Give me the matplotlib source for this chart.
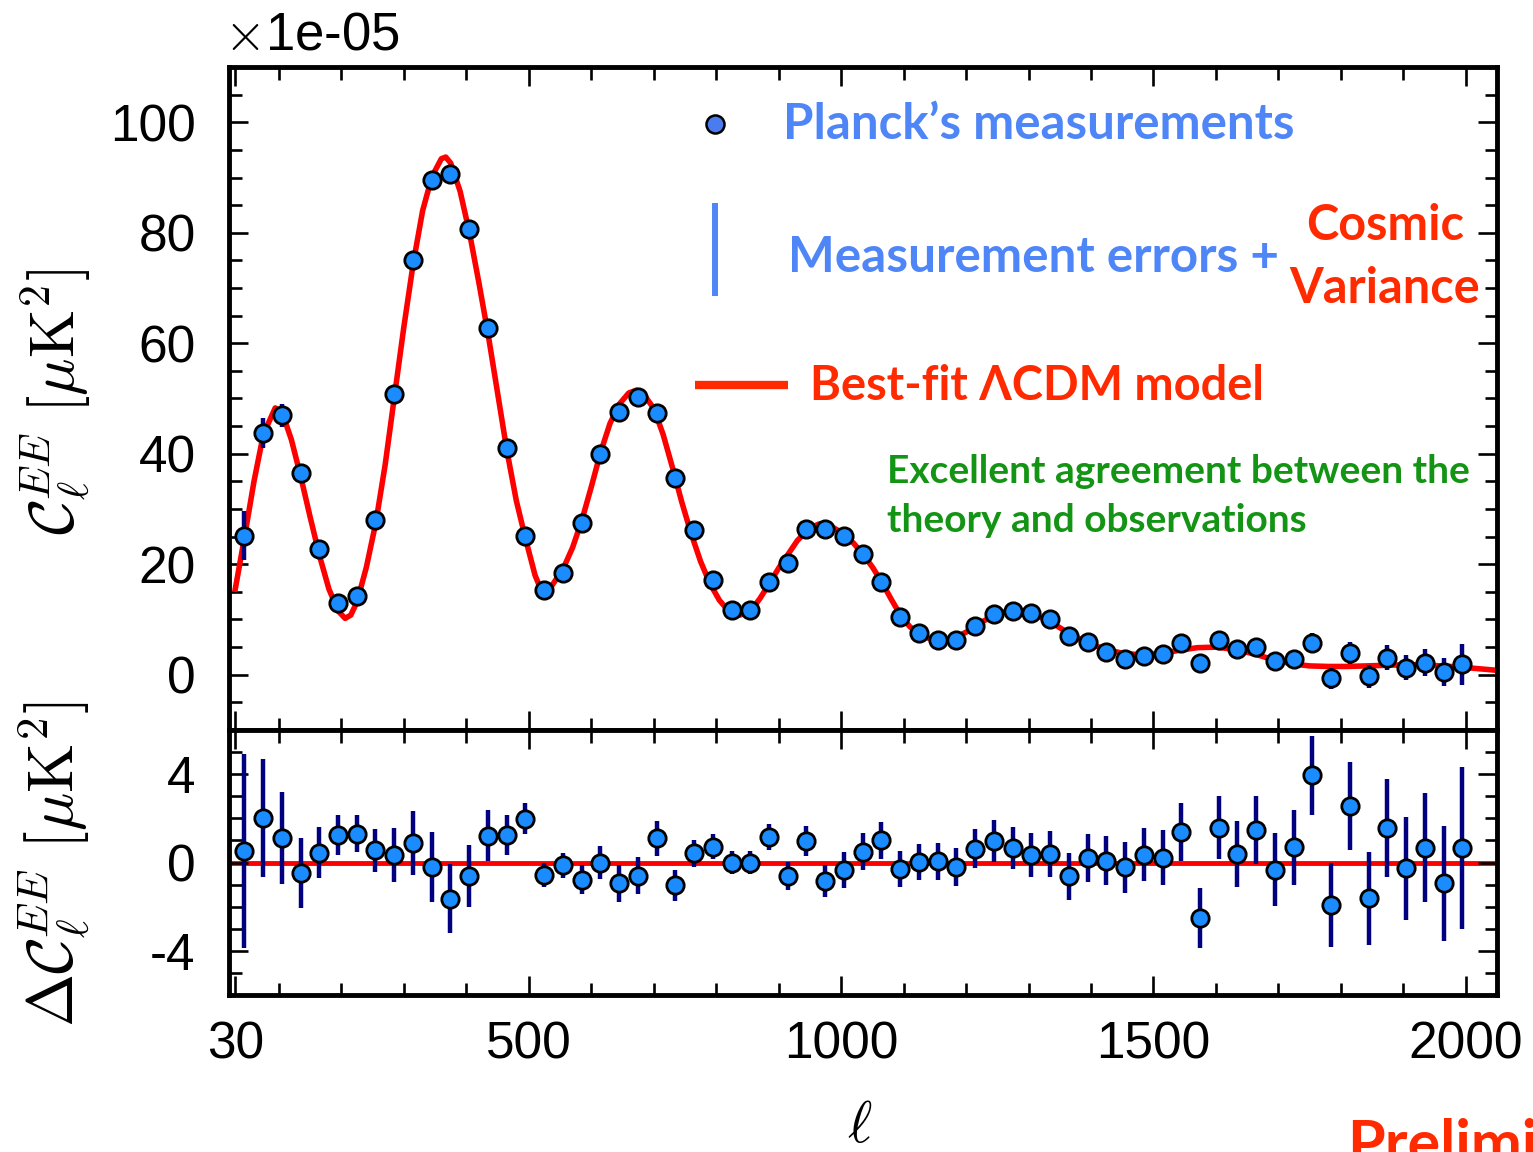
import matplotlib.pyplot as plt
from matplotlib.ticker import MultipleLocator, FixedLocator

plt.rcParams['font.family'] = ['Liberation Sans', 'DejaVu Sans']
plt.rcParams['mathtext.fontset'] = 'cm'
plt.rcParams['axes.unicode_minus'] = False

# binned multipoles
ell = [44.5, 74.5, 104.5, 134.5, 164.5, 194.5, 224.5, 254.5, 284.5, 314.5,
       344.5, 374.5, 404.5, 434.5, 464.5, 494.5, 524.5, 554.5, 584.5, 614.5,
       644.5, 674.5, 704.5, 734.5, 764.5, 794.5, 824.5, 854.5, 884.5, 914.5,
       944.5, 974.5, 1004.5, 1034.5, 1064.5, 1094.5, 1124.5, 1154.5, 1184.5, 1214.5,
       1244.5, 1274.5, 1304.5, 1334.5, 1364.5, 1394.5, 1424.5, 1454.5, 1484.5, 1514.5,
       1544.5, 1574.5, 1604.5, 1634.5, 1664.5, 1694.5, 1724.5, 1754.5, 1784.5, 1814.5,
       1844.5, 1874.5, 1904.5, 1934.5, 1964.5, 1994.5]

# measured C_ell^EE (top panel)
cl_ee = [25.2, 43.8, 47.0, 36.5, 22.7, 13.0, 14.3, 28.0, 50.9, 75.0,
         89.6, 90.6, 80.7, 62.7, 41.0, 25.1, 15.3, 18.5, 27.5, 40.0,
         47.6, 50.2, 47.4, 35.7, 26.2, 17.2, 11.8, 11.8, 16.8, 20.3,
         26.3, 26.3, 25.2, 21.9, 16.8, 10.5, 7.5, 6.2, 6.3, 8.9,
         11.0, 11.6, 11.2, 10.0, 7.1, 5.9, 4.2, 2.9, 3.4, 3.8,
         5.7, 2.1, 6.3, 4.7, 5.1, 2.5, 2.8, 5.7, -0.6, 3.9,
         -0.3, 3.1, 1.3, 2.2, 0.5, 1.9]

# error bars (same in both panels)
cl_err = [4.39, 2.68, 2.08, 1.57, 1.15, 0.90, 0.84, 0.97, 1.21, 1.45,
          1.58, 1.55, 1.40, 1.15, 0.90, 0.72, 0.55, 0.57, 0.65, 0.74,
          0.83, 0.83, 0.79, 0.72, 0.63, 0.58, 0.54, 0.53, 0.58, 0.64,
          0.69, 0.72, 0.82, 0.84, 0.83, 0.81, 0.81, 0.83, 0.86, 0.88,
          0.94, 0.97, 0.99, 1.03, 1.05, 1.09, 1.11, 1.15, 1.19, 1.25,
          1.32, 1.37, 1.43, 1.50, 1.56, 1.64, 1.71, 1.79, 1.89, 1.99,
          2.10, 2.22, 2.34, 2.47, 2.61, 3.67]

# residuals data - model (bottom panel)
resid = [0.54, 2.02, 1.09, -0.47, 0.44, 1.24, 1.30, 0.56, 0.33, 0.89,
         -0.20, -1.64, -0.60, 1.22, 1.24, 1.99, -0.57, -0.12, -0.77, 0.00,
         -0.95, -0.60, 1.09, -1.04, 0.41, 0.72, 0.00, 0.00, 1.16, -0.62,
         0.97, -0.84, -0.35, 0.48, 1.00, -0.30, 0.03, 0.06, -0.21, 0.62,
         0.97, 0.66, 0.33, 0.39, -0.63, 0.21, 0.09, -0.21, 0.36, 0.21,
         1.39, -2.52, 1.58, 0.39, 1.47, -0.32, 0.68, 3.95, -1.93, 2.55,
         -1.63, 1.58, -0.26, 0.66, -0.95, 0.66]

# best-fit LCDM curve
model_ell = [30, 45, 60, 75, 94, 105, 120, 135, 150, 165, 180, 195, 206, 215, 225,
             240, 255, 270, 285, 300, 315, 330, 345, 360, 367, 375, 390, 405, 420, 435,
             450, 465, 480, 495, 510, 522, 535, 555, 570, 585, 600, 615, 630, 645, 660,
             672, 685, 700, 715, 730, 745, 760, 775, 790, 805, 820, 838, 855, 870, 885,
             900, 915, 930, 950, 965, 980, 1000, 1020, 1035, 1050, 1065, 1080, 1095, 1110,
             1125, 1140, 1160, 1180, 1200, 1220, 1245, 1270, 1290, 1310, 1335, 1360, 1390,
             1420, 1450, 1480, 1510, 1540, 1570, 1600, 1630, 1660, 1690, 1720, 1750, 1780,
             1810, 1840, 1870, 1900, 1930, 1960, 1990, 2020, 2050]
model_cl = [15.5, 25.0, 35.0, 43.5, 48.3, 47.5, 42.5, 35.8, 28.5, 21.5, 15.5, 11.5, 10.2, 10.8, 13.2,
            19.5, 27.5, 38.0, 50.5, 63.0, 74.5, 84.0, 90.2, 93.4, 93.7, 92.6, 87.5, 80.0, 71.0, 61.5,
            51.0, 40.5, 31.5, 24.5, 18.0, 14.7, 15.8, 19.2, 23.0, 28.0, 34.0, 40.3, 45.5, 49.0, 51.0,
            51.5, 50.6, 48.2, 43.5, 37.5, 31.2, 25.5, 20.5, 16.5, 13.5, 11.5, 10.8, 11.5, 13.8, 16.5,
            19.3, 21.8, 24.3, 26.6, 27.3, 27.1, 25.8, 23.8, 21.8, 19.5, 16.8, 13.7, 10.8, 8.7,
            7.4, 6.6, 6.2, 6.6, 7.7, 9.2, 10.8, 11.6, 11.5, 10.9, 9.6, 7.8, 6.0,
            4.7, 3.9, 3.6, 3.8, 4.4, 4.9, 5.0, 4.6, 3.8, 2.8, 2.0, 1.6, 1.5,
            1.5, 1.6, 1.7, 1.8, 1.8, 1.6, 1.4, 1.1, 0.8]

xticks = [30, 500, 1000, 1500, 2000]

red = '#ff0000'
pt_face = '#1a8cff'
bar_col = '#000080'
txt_blue = '#4f86f7'
txt_red = '#ff2a00'
txt_green = '#149414'

fig = plt.figure(figsize=(15.33, 11.52), dpi=100)
ax1 = fig.add_axes([0.14938, 0.36632, 0.82714, 0.57552])
ax2 = fig.add_axes([0.14938, 0.13628, 0.82714, 0.23004])

# top panel
ax1.plot(model_ell, model_cl, color=red, lw=4.0, zorder=2)
ax1.errorbar(ell, cl_ee, yerr=cl_err, fmt='o', ms=12.5, mfc=pt_face, mec='black',
             mew=2.0, ecolor=bar_col, elinewidth=3.2, capsize=0, zorder=3)

# bottom panel
ax2.axhline(0, color=red, lw=3.5, zorder=1)
ax2.errorbar(ell, resid, yerr=cl_err, fmt='o', ms=12.5, mfc=pt_face, mec='black',
             mew=2.0, ecolor=bar_col, elinewidth=3.2, capsize=0, zorder=3)

for ax in (ax1, ax2):
    ax.set_xlim(20, 2050)
    ax.xaxis.set_major_locator(FixedLocator(xticks))
    ax.xaxis.set_minor_locator(MultipleLocator(100))
    ax.tick_params(which='both', direction='in', top=True, right=True,
                   width=1.9, labelsize=37)
    ax.tick_params(which='major', length=14)
    ax.tick_params(which='minor', length=9)
    ax.tick_params(axis='x', pad=18)
    ax.tick_params(axis='y', pad=24)
    for s in ax.spines.values():
        s.set_linewidth(3.5)

ax1.set_ylim(-10, 110)
ax1.yaxis.set_major_locator(MultipleLocator(20))
ax1.yaxis.set_minor_locator(MultipleLocator(5))
ax1.tick_params(axis='x', labelbottom=False)

ax2.set_ylim(-6, 6)
ax2.yaxis.set_major_locator(FixedLocator([-4, 0, 4]))
ax2.yaxis.set_minor_locator(MultipleLocator(1))
ax2.set_xticklabels([str(t) for t in xticks])

# offset text and axis labels
ax1.text(-0.004, 1.026, r'$\times$1e-05', transform=ax1.transAxes, ha='left', va='baseline',
         fontsize=38)
fig.text(55 / 1533, 1 - 402 / 1152, r'$\mathcal{C}_\ell^{EE}\ [\mu\mathrm{K}^2]$',
         rotation=90, ha='center', va='center', fontsize=45)
fig.text(55 / 1533, 1 - 864 / 1152, r'$\Delta\mathcal{C}_\ell^{EE}\ [\mu\mathrm{K}^2]$',
         rotation=90, ha='center', va='center', fontsize=46)
fig.text(860 / 1533, 1 - 1127 / 1152, r'$\ell$', ha='center', va='center', fontsize=42)

# hand-made legend
lfont = ['Lato', 'DejaVu Sans']
ax1.plot([0.3833], [0.914], 'o', ms=13, mfc='#4a7cf0', mec='black', mew=1.8,
         transform=ax1.transAxes, clip_on=False)
ax1.plot([0.3833, 0.3833], [0.6546, 0.795], color=txt_blue, lw=4.3,
         transform=ax1.transAxes, solid_capstyle='butt')
ax1.plot([0.3675, 0.4409], [0.5204, 0.5204], color=txt_red, lw=6,
         transform=ax1.transAxes, solid_capstyle='butt')

def ftext(x, y, s, color, size, ha='left'):
    fig.text(x / 1533, 1 - y / 1152, s, color=color, fontsize=size, ha=ha,
             va='baseline', family=lfont, weight='bold')

ftext(783, 139, 'Planck\u2019s measurements', txt_blue, 35.4)
ftext(788, 272, 'Measurement errors +', txt_blue, 35.6)
ftext(1385, 240, 'Cosmic', txt_red, 35, ha='center')
ftext(1385, 303, 'Variance', txt_red, 35, ha='center')
ftext(810, 400, 'Best-fit \u039bCDM model', txt_red, 33.8)
ftext(887, 483, 'Excellent agreement between the', txt_green, 28)
ftext(887, 532, 'theory and observations', txt_green, 28)
# clipped at the figure edge, as in the original slide
ftext(1347, 1164, 'Preliminary', txt_red, 44)

fig.savefig('out.png', dpi=100)
